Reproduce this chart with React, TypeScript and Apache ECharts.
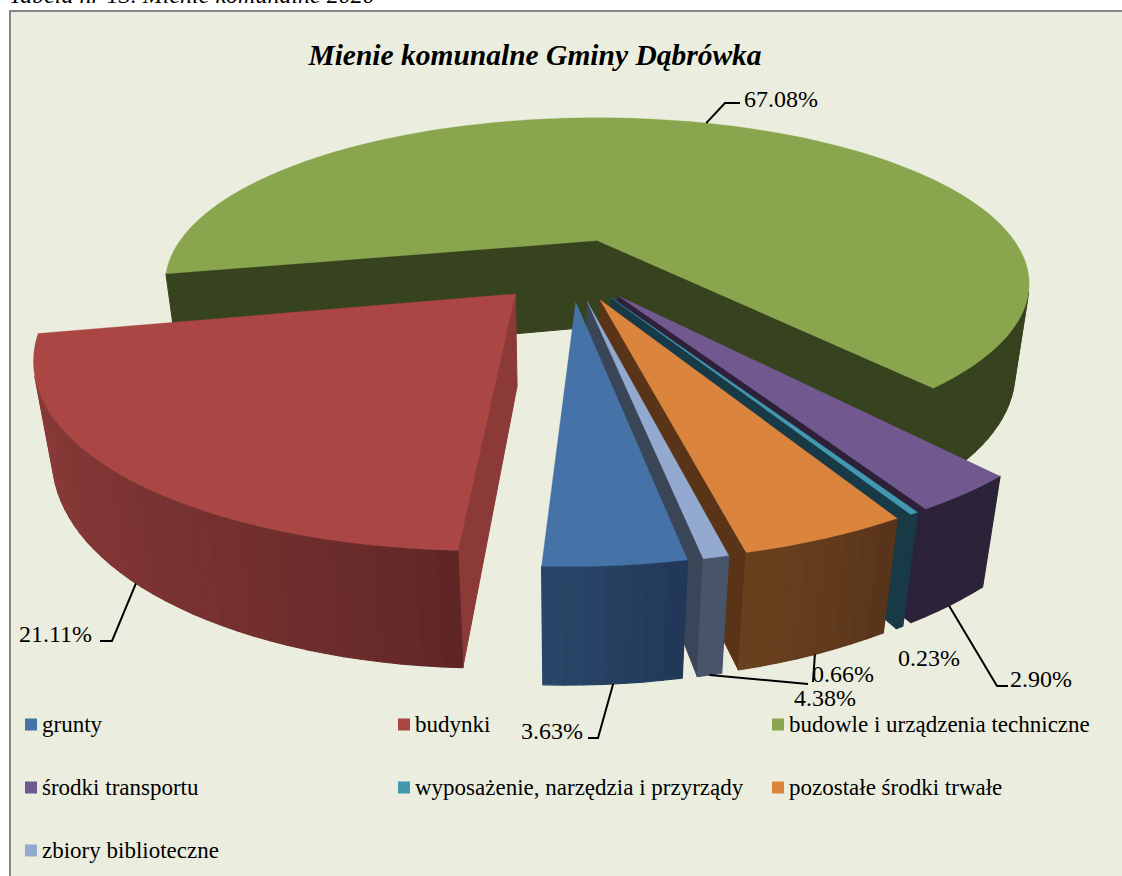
import React, { useEffect, useRef } from "react";
import * as echarts from "echarts";

const titleText = "Mienie komunalne Gminy Dąbrówka";
const captionText = "Tabela nr 13. Mienie komunalne 2020";
const categories = ["grunty", "budynki", "budowle i urządzenia techniczne", "środki transportu", "wyposażenie, narzędzia i przyrządy", "pozostałe środki trwałe", "zbiory biblioteczne"];
const shares = [3.63, 21.11, 67.08, 2.9, 0.23, 4.38, 0.66];
const topColors = ["#4572A7", "#AA4643", "#89A54E", "#71588F", "#4198AF", "#DB843D", "#93A9CF"];
const wallStart = ["#1f3556", "#5c2524", "#37421e", "#2c2338", "#183a47", "#55321a", "#47546a"];
const wallEnd = ["#294668", "#8f3d3b", "#37421e", "#2c2338", "#183a47", "#6a411e", "#47546a"];
const radialColors = ["#3a4558", "#8b3a38", "#37421e", "#2c2139", "#183a47", "#5a3417", "#3a4658"];
const paintRank = [5, 6, 0, 1, 2, 3, 4];
const legendLeft = [25, 398, 772, 25, 398, 772, 25];
const legendTop = [713, 713, 713, 776, 776, 776, 839];
const labelLeft = [521, 19, 744, 1010, 898, 794, 812];
const labelTop = [731, 634, 99, 679, 658, 698, 674];
const leaderElbows: number[][][] = [
  [[598, 738], [588, 738]],
  [[112, 641], [100, 641]],
  [[725, 103], [740, 103]],
  [[997, 686], [1008, 686]],
  [],
  [[813, 682]],
  [[808, 684]],
];

// view of the pie: plane to screen
const originX = 597, originY = 239, radiusX = 416, radiusY = 154, persp = 0.26;
const vanishX = 570, vanishY = 3200, depth = 0.029;
const centerU = -0.06, centerV = 0.185, explode = 0.185, firstAngle = 169.2;
const total = shares.reduce((a, b) => a + b, 0);

const rad = (d: number) => (d * Math.PI) / 180;
function topPoint(u: number, v: number) {
  const s = 1 / (1 - persp * v);
  return { x: originX + radiusX * u * s, y: originY + radiusY * v * s, s };
}
function bottomOf(p: { x: number; y: number; s: number }) {
  const f = depth * p.s;
  return { x: p.x + (vanishX - p.x) * f, y: p.y + (vanishY - p.y) * f, s: p.s };
}
function sliceAngles(i: number) {
  let a = firstAngle;
  for (let k = 0; k < i; k++) a += (shares[k] / total) * 360;
  return [a, a + (shares[i] / total) * 360];
}
function apexOf(i: number) {
  const [a, b] = sliceAngles(i);
  const m = rad((a + b) / 2);
  return { u: centerU + explode * Math.sin(m), v: centerV - explode * Math.cos(m) };
}
function rimPoint(i: number, deg: number) {
  const c = apexOf(i);
  return topPoint(c.u + Math.sin(rad(deg)), c.v - Math.cos(rad(deg)));
}
function hex(c: string) {
  return [1, 3, 5].map((k) => parseInt(c.slice(k, k + 2), 16));
}
function mix(a: string, b: string, t: number) {
  const x = hex(a), y = hex(b);
  return "rgb(" + x.map((v, k) => Math.round(v + (y[k] - v) * t)).join(",") + ")";
}
function cross(ax: number, ay: number, bx: number, by: number) {
  return ax * by - ay * bx;
}
type P = { x: number; y: number; s: number };
function faces(e1: P, e2: P, inner: P) {
  const ex = e2.x - e1.x, ey = e2.y - e1.y;
  return cross(ex, ey, vanishX - e1.x, vanishY - e1.y) * cross(ex, ey, inner.x - e1.x, inner.y - e1.y) < 0;
}
const pts = (list: P[]) => list.map((p) => [p.x, p.y]);

function renderSlice(_: any, api: any) {
  const i = api.value(1);
  const [a, b] = sliceAngles(i);
  const c = apexOf(i);
  const apex = topPoint(c.u, c.v);
  const n = Math.max(2, Math.ceil((b - a) / 2));
  const rim: P[] = [];
  for (let k = 0; k <= n; k++) rim.push(rimPoint(i, a + ((b - a) * k) / n));
  const mid = rimPoint(i, (a + b) / 2);
  const children: any[] = [];
  const poly = (list: P[], color: string, z2: number, width: number) =>
    children.push({ type: "polygon", z2, shape: { points: pts(list) }, style: { fill: color, stroke: color, lineWidth: width, lineJoin: "round" } });
  [rim[0], rim[n]].forEach((r) => {
    if (faces(apex, r, mid)) poly([apex, r, bottomOf(r), bottomOf(apex)], radialColors[i], 1, 1);
  });
  for (let k = 0; k < n; k++) {
    if (faces(rim[k], rim[k + 1], apex)) {
      const t = Math.pow((k + 0.5) / n, 0.65);
      poly([rim[k], rim[k + 1], bottomOf(rim[k + 1]), bottomOf(rim[k])], mix(wallStart[i], wallEnd[i], t), 2, 1.2);
    }
  }
  poly([apex, ...rim], topColors[i], 3, 0.3);
  return { type: "group", children };
}

export default function App() {
  const ref = useRef<HTMLDivElement>(null);
  useEffect(() => {
    const chart = echarts.init(ref.current!, null, { renderer: "svg" });
    const serif = "'Liberation Serif', 'Times New Roman', serif";
    const graphic: any[] = [
      { type: "rect", z: 0, shape: { x: 10, y: 11, width: 1140, height: 900 }, style: { fill: "#EBEEDE", stroke: "#868686", lineWidth: 2 } },
      { type: "text", z: 100, x: 9, y: 7, style: { text: captionText, font: "italic 24px " + serif, fill: "#000", textVerticalAlign: "bottom" } },
      { type: "text", z: 100, x: 535, y: 55, style: { text: titleText, font: "italic bold 29.5px " + serif, fill: "#000", textAlign: "center", textVerticalAlign: "middle" } },
    ];
    shares.forEach((v, i) => {
      const [a, b] = sliceAngles(i);
      const r = rimPoint(i, (a + b) / 2);
      const start = i === 2 ? r : bottomOf(r);
      if (leaderElbows[i].length) {
        graphic.push({ type: "polyline", z: 100, shape: { points: [[start.x, start.y], ...leaderElbows[i]] }, style: { stroke: "#000", lineWidth: 2, fill: "none" } });
      }
      graphic.push({ type: "text", z: 101, x: labelLeft[i], y: labelTop[i], style: { text: v.toFixed(2) + "%", font: "24px " + serif, fill: "#000", textVerticalAlign: "middle" } });
    });
    chart.setOption({
      animation: false,
      backgroundColor: "#ffffff",
      legend: categories.map((name, i) => ({
        data: [name], left: legendLeft[i], top: legendTop[i], icon: "rect", itemWidth: 12, itemHeight: 12, selectedMode: false, padding: 0,
        textStyle: { fontFamily: serif, fontSize: 23, color: "#000" },
      })),
      graphic,
      series: categories.map((name, i) => ({
        type: "custom", name, coordinateSystem: "none", z: 2 + paintRank[i], silent: true,
        itemStyle: { color: topColors[i] }, data: [[shares[i], i]], renderItem: renderSlice,
      })),
    });
    return () => chart.dispose();
  }, []);
  return <div ref={ref} style={{ position: "fixed", left: 0, top: 0, width: 1122, height: 876 }} />;
}
